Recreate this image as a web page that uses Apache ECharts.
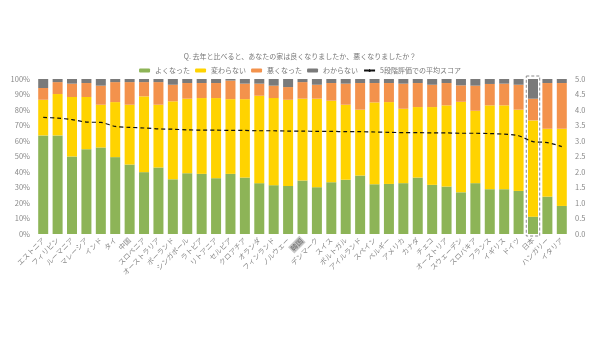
<!DOCTYPE html>
<html><head><meta charset="utf-8">
<script src="https://cdn.jsdelivr.net/npm/echarts@6/dist/echarts.min.js"></script>
<style>html,body{margin:0;padding:0;background:#fff}#c{width:600px;height:338px}</style>
</head><body><div id="c"></div>
<script>
const categories = ['エストニア','フィリピン','ルーマニア','マレーシア','インド','タイ','中国','スロベニア','オーストラリア','ポーランド','シンガポール','ラトビア','リトアニア','セルビア','クロアチア','オランダ','フィンランド','ノルウェー','韓国','デンマーク','スイス','ポルトガル','アイルランド','スペイン','ベルギー','アメリカ','カナダ','チェコ','オーストリア','スウェーデン','スロバキア','フランス','イギリス','ドイツ','日本','ハンガリー','イタリア'];
const better = [63.6,63.6,50.0,54.7,55.8,49.6,44.8,39.9,42.9,35.3,39.2,38.8,36.0,38.8,36.4,32.8,31.5,31.0,34.5,30.2,33.4,35.0,37.7,32.1,32.3,32.8,36.4,31.7,30.6,26.9,32.8,28.9,28.9,27.8,11.2,24.1,18.1];
const same = [23.0,26.7,38.4,33.7,27.6,35.5,38.6,48.9,40.5,50.3,48.1,48.9,51.7,48.2,50.6,56.4,56.2,55.6,52.8,57.1,52.6,48.4,42.5,52.8,52.8,48.0,45.5,50.2,52.4,58.4,46.7,54.1,54.1,52.4,62.1,43.8,49.8];
const worse = [7.6,7.7,8.6,9.0,12.3,12.9,14.6,9.2,14.6,10.7,10.1,9.7,9.7,12.0,10.0,7.8,8.0,8.2,10.7,9.0,11.4,13.6,17.2,12.5,12.3,16.2,15.5,14.4,14.4,10.6,16.2,13.8,14.0,16.1,14.0,29.5,29.5];
const unknown = [5.8,2.0,3.0,2.6,4.3,2.0,2.0,2.0,2.0,3.7,2.6,2.6,2.6,1.0,3.0,3.0,4.3,5.2,2.0,3.7,2.6,3.0,2.6,2.6,2.6,3.0,2.6,3.7,2.6,4.1,4.3,3.2,3.0,3.7,12.7,2.6,2.6];
const score = [3.76,3.74,3.69,3.61,3.60,3.47,3.44,3.42,3.39,3.38,3.36,3.35,3.35,3.34,3.34,3.33,3.33,3.32,3.32,3.31,3.31,3.30,3.30,3.29,3.28,3.27,3.27,3.26,3.26,3.25,3.25,3.24,3.22,3.17,2.98,2.95,2.82];
const seriesNames = ['よくなった','変わらない','悪くなった','わからない','5段階評価での平均スコア'];
const highlightCat = '日本';
const labelHighlight = '韓国';

const colors = ['#8DB457','#FFD300','#F3924C','#7A7A7A'];
const font = '"Noto Sans CJK JP", "Noto Sans", sans-serif';
const chart = echarts.init(document.getElementById('c'), null, {renderer:'canvas'});
const barBase = {type:'bar', stack:'s', barWidth:10, yAxisIndex:0};
chart.setOption({
  animation:false,
  textStyle:{fontFamily:font},
  title:{text:'Q. 去年と比べると、あなたの家は良くなりましたか、悪くなりましたか？', left:'center', top:48,
    textStyle:{fontSize:7, fontWeight:'normal', color:'#777', fontFamily:font}},
  legend:{data:seriesNames, top:62, left:'center', itemWidth:11, itemHeight:4, itemGap:5,
    textStyle:{fontSize:7, color:'#777', fontFamily:font}},
  grid:{left:36, right:31, top:79, bottom:104},
  xAxis:{type:'category', data:categories, axisLine:{show:false}, axisTick:{show:false},
    axisLabel:{rotate:45, fontSize:7, color:'#888', interval:0, margin:5, fontFamily:font,
      formatter:v => v===labelHighlight ? '{h|'+v+'}' : v,
      rich:{h:{backgroundColor:'#c8c8c8', color:'#666', fontSize:7, padding:[1,1]}}}},
  yAxis:[
    {type:'value', min:0, max:100, interval:10, splitLine:{show:false}, axisLine:{show:false},
      axisLabel:{formatter:'{value}%', fontSize:7.5, color:'#888', margin:6}},
    {type:'value', min:0, max:5, interval:0.5, splitLine:{show:false}, axisLine:{show:false},
      axisLabel:{formatter:v => v.toFixed(1), fontSize:7.5, color:'#888', margin:6}}
  ],
  series:[
    Object.assign({name:seriesNames[0], data:better, itemStyle:{color:colors[0]}}, barBase),
    Object.assign({name:seriesNames[1], data:same, itemStyle:{color:colors[1]}}, barBase),
    Object.assign({name:seriesNames[2], data:worse, itemStyle:{color:colors[2]}}, barBase),
    Object.assign({name:seriesNames[3], data:unknown, itemStyle:{color:colors[3]}}, barBase),
    {name:seriesNames[4], type:'line', yAxisIndex:1, data:score, symbol:'none', smooth:0.3,
      lineStyle:{color:'#111', width:1.2, type:[4,3]}, itemStyle:{color:'#111'}, z:5},
    {type:'custom', yAxisIndex:0, data:[[highlightCat,100]], z:6, silent:true,
      renderItem:(params, api) => {
        const top = api.coord([api.value(0), 100]);
        const bot = api.coord([api.value(0), 0]);
        const w = api.size([1,0])[0];
        return {type:'rect', shape:{x:top[0]-w/2+0.5, y:top[1]-3, width:w-1, height:bot[1]-top[1]+5},
          style:{fill:'none', stroke:'#8a8a8a', lineWidth:1, lineDash:[3,2]}};
      }}
  ]
});
</script></body></html>
